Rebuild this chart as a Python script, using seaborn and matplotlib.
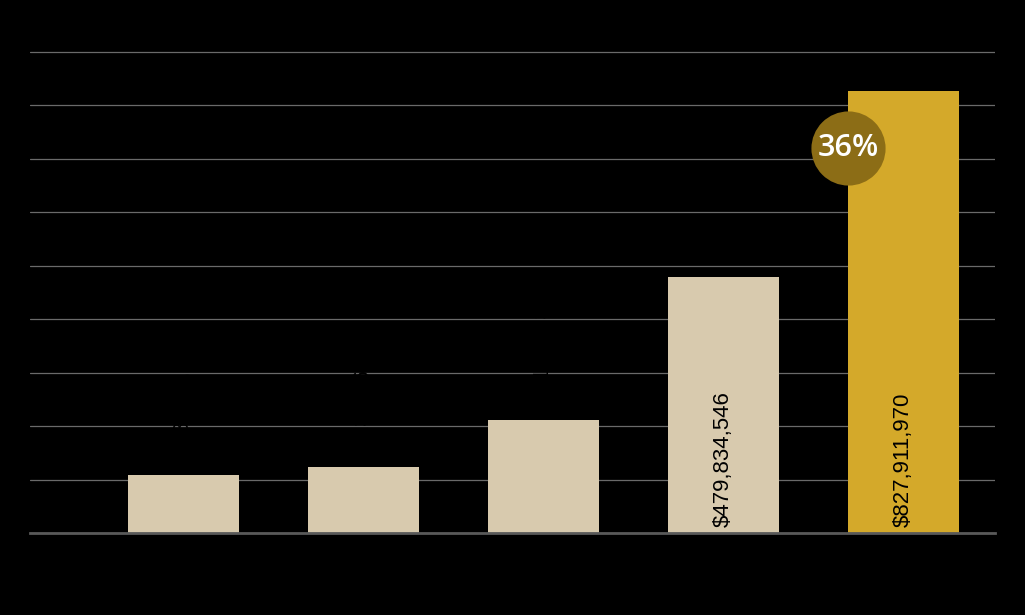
import matplotlib
matplotlib.use("Agg")
import matplotlib.pyplot as plt
import seaborn as sns
import pandas as pd

categories = ["2019", "2020", "2021", "2022", "2023"]
values = [108512734, 123486215, 211402387, 479834546, 827911970]
bar_colors = ["#D8CAAE", "#D8CAAE", "#D8CAAE", "#D8CAAE", "#D4A92A"]
value_labels = ["$108,512,734", "$123,486,215", "$211,402,387", "$479,834,546", "$827,911,970"]
inside_label = [False, False, False, True, True]
growth_text = "36%"
ytick_values = [0, 100e6, 200e6, 300e6, 400e6, 500e6, 600e6, 700e6, 800e6, 900e6]
ytick_labels = ["0", "100", "200", "300", "400", "500", "600", "700", "800", "900"]

sns.set_theme(style="dark")
plt.rcParams['font.family'] = ['Liberation Sans', 'DejaVu Sans']

df = pd.DataFrame({"cat": categories, "val": values})

fig = plt.figure(figsize=(10.25, 6.15), dpi=100, facecolor="black")
ax = fig.add_axes([30/1025, 1 - 533/615, 965/1025, (533 - 52)/615 * 9.5/9])
ax.set_facecolor("black")

sns.barplot(data=df, x="cat", y="val", hue="cat", palette=bar_colors, legend=False,
            width=0.617, saturation=1, ax=ax, zorder=3, linewidth=0, edgecolor="none")

ax.set_ylim(0, 950e6)
ax.set_xlim(-0.853, 4.508)
ax.set_yticks(ytick_values)
ax.set_yticklabels(ytick_labels, color="black", fontsize=5)
ax.tick_params(axis="y", length=0, pad=2)
ax.tick_params(axis="x", length=0, colors="black", labelsize=12)
ax.set_xlabel("")
ax.set_ylabel("")
ax.grid(axis="y", color="#6a6a6a", linewidth=0.9, zorder=0)
ax.grid(axis="x", visible=False)
for s in ["top", "right", "left"]:
    ax.spines[s].set_visible(False)
ax.spines["bottom"].set_color("#595959")
ax.spines["bottom"].set_linewidth(2)
ax.spines["bottom"].set_zorder(4)

px_per_val = (533 - 52) / 900e6
for i, (v, lab, inside) in enumerate(zip(values, value_labels, inside_label)):
    if inside:
        y = 6 / px_per_val
    else:
        y = v + 5 / px_per_val
    ax.text(i, y, lab, rotation=90, ha="center", va="bottom", color="black",
            fontsize=16, family=["Liberation Sans", "DejaVu Sans"], zorder=5)

cx = 4 - 0.617 / 2
cy = (533 - 148) / px_per_val
ax.scatter([cx], [cy], s=2850, color="#8C6D16", zorder=6, linewidths=0)
ax.text(cx, cy, growth_text, ha="center", va="center", color="white", fontsize=22,
        family=["Open Sans", "DejaVu Sans"], fontweight="semibold", zorder=7)

fig.savefig("out.png", dpi=100, facecolor="black")
